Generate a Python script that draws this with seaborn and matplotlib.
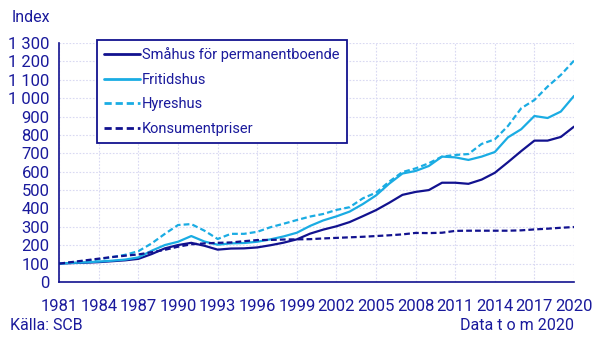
import numpy as np
import pandas as pd
import matplotlib
matplotlib.use("Agg")
import matplotlib.pyplot as plt
import seaborn as sns

years = list(range(1981, 2021))
smahus = [100, 103, 105, 108, 113, 118, 126, 152, 183, 201, 213, 197, 176, 182, 183, 188, 200, 214, 232, 263, 285, 303, 326, 358, 391, 431, 474, 490, 500, 540, 540, 534, 557, 594, 652, 712, 769, 769, 789, 845]
fritidshus = [100, 104, 107, 111, 116, 122, 134, 170, 201, 219, 250, 220, 203, 210, 212, 219, 232, 248, 268, 305, 335, 357, 383, 424, 471, 535, 590, 604, 631, 682, 678, 664, 682, 707, 787, 831, 903, 892, 927, 1012]
hyreshus = [100, 108, 115, 123, 135, 148, 168, 210, 262, 310, 315, 279, 234, 262, 262, 273, 298, 317, 337, 356, 370, 392, 407, 455, 486, 546, 598, 618, 646, 682, 691, 696, 751, 776, 849, 945, 990, 1063, 1126, 1204]
kpi = [100, 109, 118, 127, 136, 143, 150, 162, 175, 192, 205, 210, 213, 215, 222, 228, 229, 231, 232, 233, 237, 240, 243, 246, 250, 254, 259, 267, 266, 268, 278, 279, 279, 279, 279, 281, 286, 290, 295, 299]
series_names = ["Småhus för permanentboende", "Fritidshus", "Hyreshus", "Konsumentpriser"]
x_ticks = list(range(1981, 2021, 3))
y_ticks = list(range(0, 1301, 100))

NAVY = "#12128f"
TEXT = "#1a1a9c"
LIGHT = "#1aace3"
GRID = "#d9d9f2"

df = pd.DataFrame({"År": years, series_names[0]: smahus, series_names[1]: fritidshus,
                   series_names[2]: hyreshus, series_names[3]: kpi})
long = df.melt(id_vars="År", var_name="Serie", value_name="Index")

sns.set_theme(style="white")
plt.rcParams["font.family"] = ["Roboto", "DejaVu Sans"]

fig = plt.figure(figsize=(6.06, 3.40), dpi=100)
ax = fig.add_axes([59.3 / 606, 1 - 282 / 340, (574 - 59.3) / 606, (282 - 43) / 340])

palette = {series_names[0]: NAVY, series_names[1]: LIGHT, series_names[2]: LIGHT, series_names[3]: NAVY}
dashes = {series_names[0]: "", series_names[1]: "", series_names[2]: (2.6, 1.4), series_names[3]: (2.6, 1.4)}
sns.lineplot(data=long, x="År", y="Index", hue="Serie", style="Serie", palette=palette,
             dashes=dashes, linewidth=1.6, ax=ax, hue_order=series_names, style_order=series_names)

ax.set_xlim(1981, 2020)
ax.set_ylim(0, 1300)
ax.set_xticks(x_ticks)
ax.set_yticks(y_ticks)
ax.set_yticklabels([f"{v:,}".replace(",", " ") for v in y_ticks])
ax.set_xlabel("")
ax.set_ylabel("")
ax.grid(True, color=GRID, linestyle=(0, (1.5, 1.5)), linewidth=0.8)
for s in ["top", "right"]:
    ax.spines[s].set_visible(False)
for s in ["left", "bottom"]:
    ax.spines[s].set_color(NAVY)
    ax.spines[s].set_linewidth(1.2)
ax.tick_params(axis="both", direction="out", length=5, width=1.1, color=NAVY,
               labelcolor=TEXT, labelsize=12, pad=2)
ax.tick_params(axis="x", pad=7)

leg = ax.legend(loc="upper left", bbox_to_anchor=(97 / 606, 1 - 40 / 340),
                bbox_transform=fig.transFigure, frameon=True, fancybox=False,
                fontsize=10.5, handlelength=2.45, handletextpad=0.15, labelspacing=0.72,
                borderpad=0.5, borderaxespad=0, title=None)
leg.get_frame().set_edgecolor(NAVY)
leg.get_frame().set_linewidth(1.3)
leg.get_frame().set_alpha(1)
for t in leg.get_texts():
    t.set_color(TEXT)
for h in leg.get_lines():
    h.set_linewidth(2)

fig.text(12 / 606, 1 - 17 / 340, "Index", color=TEXT, fontsize=11.5, va="center", ha="left")
fig.text(10 / 606, 1 - 326 / 340, "Källa: SCB", color=TEXT, fontsize=11.5, va="center", ha="left")
fig.text(574 / 606, 1 - 326 / 340, "Data t o m 2020", color=TEXT, fontsize=11.5, va="center", ha="right")

fig.savefig("out.png", dpi=100)
